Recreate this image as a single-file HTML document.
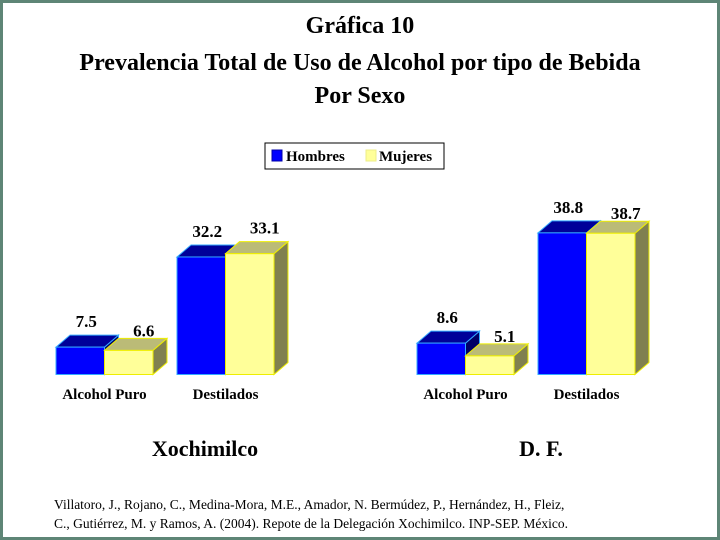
<!DOCTYPE html>
<html><head><meta charset="utf-8"><style>
body{margin:0;width:720px;height:540px;overflow:hidden;background:#fff}
#frame{position:absolute;left:0;top:0;width:714px;height:534px;border:3px solid #5e8576;background:#fff}
svg{position:absolute;left:0;top:0}
text{font-family:"Liberation Serif",serif}
</style></head><body>
<div id="frame"></div>
<svg width="720" height="540" id="svg">
<g font-weight="bold" font-size="24" text-anchor="middle">
<text x="360" y="33">Gráfica 10</text>
<text x="360" y="70">Prevalencia Total de Uso de Alcohol por tipo de Bebida</text>
<text x="360" y="103">Por Sexo</text>
</g>
<g>
<rect x="265" y="143" width="179" height="26" fill="#fff" stroke="#000" stroke-width="1"/>
<rect x="272" y="150" width="10" height="11" fill="#0000ff" stroke="#0000aa"/>
<text x="286" y="161" font-size="15" font-weight="bold">Hombres</text>
<rect x="366" y="150" width="10" height="11" fill="#ffff99" stroke="#eeee88"/>
<text x="379" y="161" font-size="15" font-weight="bold">Mujeres</text>
</g>
<g id="bars"></g>
<text x="205" y="456" font-size="22" font-weight="bold" text-anchor="middle">Xochimilco</text>
<text x="541" y="456" font-size="22" font-weight="bold" text-anchor="middle">D. F.</text>
<g font-size="13.5">
<text x="54" y="509">Villatoro, J., Rojano, C., Medina-Mora, M.E., Amador, N. Bermúdez, P., Hernández, H., Fleiz,</text>
<text x="54" y="528">C., Gutiérrez, M. y Ramos, A. (2004). Repote de la Delegación Xochimilco. INP-SEP. México.</text>
</g>
</svg>
<script>
const categories = ["Alcohol Puro", "Destilados"];
const groups = ["Xochimilco", "D. F."];
const hombres = [[7.5, 32.2], [8.6, 38.8]];
const mujeres = [[6.6, 33.1], [5.1, 38.7]];
const NS = "http://www.w3.org/2000/svg";
const g = document.getElementById("bars");
const baseY = 374.5, scale = 3.65, bw = 48.5, dx = 14, dy = 12;
const groupX = [56, 417];
function yOf(v){ return baseY - v*scale; }
function mk(tag, attrs){ const e=document.createElementNS(NS,tag); for(const k in attrs) e.setAttribute(k,attrs[k]); g.appendChild(e); return e; }
function bar(x, v, front, top, side, stroke, name){
  const y = yOf(v);
  const s = mk("polygon",{points:`${x+bw},${y} ${x+bw+dx},${y-dy} ${x+bw+dx},${baseY-dy} ${x+bw},${baseY}`,fill:side,stroke:stroke,"stroke-width":1});
  
  
  const t = mk("polygon",{points:`${x},${y} ${x+dx},${y-dy} ${x+bw+dx},${y-dy} ${x+bw},${y}`,fill:top,stroke:stroke,"stroke-width":1});
  
  
  const f = mk("rect",{x:x,y:y,width:bw,height:baseY-y,fill:front,stroke:stroke,"stroke-width":1});
  
  
  return y;
}
function label(x, y, txt, name){
  const e = mk("text",{x:x,y:y,"font-size":17,"font-weight":"bold","text-anchor":"middle"});
  e.textContent = txt;
  
  
}
groups.forEach((gr, gi) => {
  categories.forEach((c, ci) => {
    const x0 = groupX[gi] + ci*121;
    const yh = bar(x0, hombres[gi][ci], "#0000ff", "#000099", "#000066", "#33aaff", "bar-hombres-"+gi+"-"+ci);
    const ym = bar(x0+bw, mujeres[gi][ci], "#ffff99", "#bbbb77", "#808050", "#eeee00", "bar-mujeres-"+gi+"-"+ci);
    label(x0+bw/2+6, yh-dy-8, hombres[gi][ci].toFixed(1), "value-hombres-"+gi+"-"+ci);
    label(x0+bw*1.5+15, ym-dy-2+ (ym<yh?-6:0), mujeres[gi][ci].toFixed(1), "value-mujeres-"+gi+"-"+ci);
    const cl = mk("text",{x:x0+bw, y:399, "font-size":15, "font-weight":"bold", "text-anchor":"middle"});
    cl.textContent = c;
    
    
  });
});
</script>
</body></html>
